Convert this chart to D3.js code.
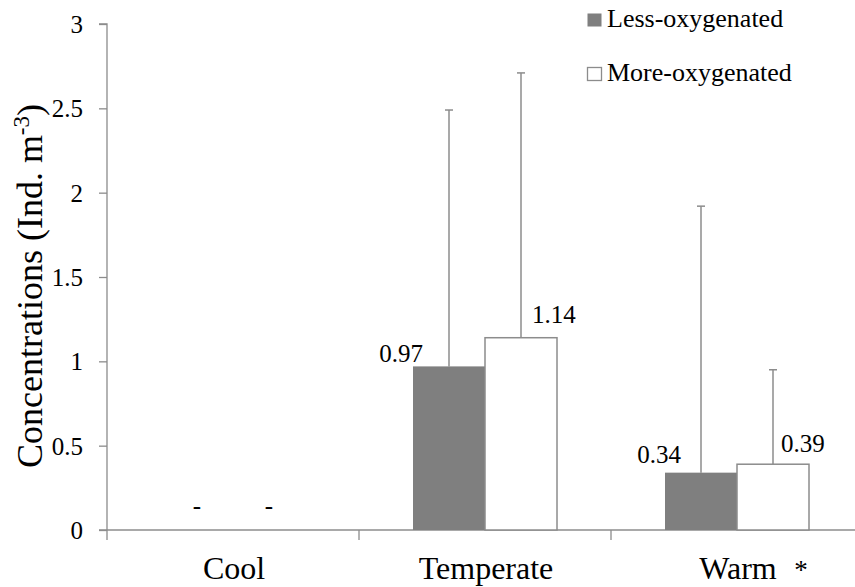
<!DOCTYPE html>
<html>
<head>
<meta charset="utf-8">
<script src="https://cdn.jsdelivr.net/npm/d3@7"></script>
<style>
  body { margin: 0; background: #fff; }
</style>
</head>
<body>
<svg id="chart" width="855" height="587" style="font-family: 'Liberation Serif', 'DejaVu Serif', serif;"></svg>
<script>
const categories = ['Cool', 'Temperate', 'Warm'];
const series = ['Less-oxygenated', 'More-oxygenated'];
const lessValues = [0, 0.97, 0.34];
const moreValues = [0, 1.14, 0.39];
const lessErrTop = [0, 2.49, 1.92];
const moreErrTop = [0, 2.71, 0.95];
const lessLabels = ['-', '0.97', '0.34'];
const moreLabels = ['-', '1.14', '0.39'];
const yTicks = [0, 0.5, 1, 1.5, 2, 2.5, 3];

// label nudges (layout only): [dx, dy] relative to bar top
const lessNudge = [[0, 0], [10, -4], [16, -10]];
const moreNudge = [[0, 0], [11, -15], [8, -12]];

const FONT = "'Liberation Serif', 'DejaVu Serif', serif";
const svg = d3.select('#chart');
const plotLeft = 107, plotRight = 863, plotTop = 24, plotBottom = 530;

const x = d3.scaleBand().domain(categories).range([plotLeft, plotRight]);
const xs = d3.scaleBand().domain(series).range([54, x.bandwidth() - 54]);
const y = d3.scaleLinear().domain([0, 3]).range([plotBottom, plotTop]);

const grey = '#8c8c8c';

// y axis
const yAxis = svg.append('g').attr('transform', `translate(${plotLeft},0)`)
  .call(d3.axisLeft(y).tickValues(yTicks).tickSize(8).tickPadding(16).tickFormat(d3.format('')));
yAxis.attr('font-family', null).attr('font-size', null);
yAxis.select('.domain').attr('stroke', grey).attr('stroke-width', 1.3).attr('d', `M-8,${plotTop}H0V${plotBottom}`);
yAxis.selectAll('.tick line').attr('stroke', grey).attr('stroke-width', 1.3);
yAxis.selectAll('.tick text').style('font-family', FONT).style('font-size', '25px').attr('fill', '#000').attr('dy', '0.34em');

// x axis
const xAxisG = svg.append('g');
xAxisG.append('line').attr('x1', plotLeft - 8).attr('x2', 855).attr('y1', plotBottom).attr('y2', plotBottom)
  .attr('stroke', grey).attr('stroke-width', 1.3);
xAxisG.selectAll('.xt').data(categories).join('line')
  .attr('x1', d => x(d)).attr('x2', d => x(d))
  .attr('y1', plotBottom).attr('y2', plotBottom + 10)
  .attr('stroke', grey).attr('stroke-width', 1.3);
xAxisG.selectAll('.xl').data(categories).join('text')
  .attr('x', d => x(d) + x.bandwidth() / 2 + 1)
  .attr('y', 579)
  .attr('text-anchor', 'middle')
  .style('font-family', FONT).style('font-size', '32px')
  .text(d => d);
svg.append('text').attr('x', x('Warm') + x.bandwidth() / 2 + 64).attr('y', 579)
  .attr('text-anchor', 'middle').style('font-family', FONT).style('font-size', '27px').text('*');

// bars
const flat = categories.flatMap((c, i) => ([
  { c, s: series[0], v: lessValues[i], e: lessErrTop[i], l: lessLabels[i], n: lessNudge[i] },
  { c, s: series[1], v: moreValues[i], e: moreErrTop[i], l: moreLabels[i], n: moreNudge[i] }
]));

// error bars (drawn behind bars)
const eb = svg.append('g');
flat.filter(d => d.e > 0).forEach(d => {
  const cx = x(d.c) + xs(d.s) + xs.bandwidth() / 2;
  eb.append('line').attr('x1', cx).attr('x2', cx).attr('y1', y(d.v)).attr('y2', y(d.e))
    .attr('stroke', grey).attr('stroke-width', 1.5);
  eb.append('line').attr('x1', cx - 4).attr('x2', cx + 4).attr('y1', y(d.e)).attr('y2', y(d.e))
    .attr('stroke', grey).attr('stroke-width', 1.5);
});

svg.append('g').selectAll('rect').data(flat).join('rect')
  .attr('x', d => x(d.c) + xs(d.s))
  .attr('y', d => y(d.v))
  .attr('width', xs.bandwidth())
  .attr('height', d => y(0) - y(d.v))
  .attr('fill', d => d.s === series[0] ? '#7f7f7f' : '#fff')
  .attr('stroke', d => d.s === series[0] ? 'none' : grey)
  .attr('stroke-width', 1.5);

// value labels
flat.forEach(d => {
  const bx = x(d.c) + xs(d.s);
  const cx = bx + xs.bandwidth() / 2;
  const t = svg.append('text').style('font-family', FONT).style('font-size', '25px');
  if (d.v === 0) {
    t.attr('x', cx).attr('y', 514).attr('text-anchor', 'middle').text(d.l);
  } else if (d.s === series[0]) {
    t.attr('x', bx + d.n[0]).attr('y', y(d.v) + d.n[1]).attr('text-anchor', 'end').text(d.l);
  } else {
    t.attr('x', cx + d.n[0]).attr('y', y(d.v) + d.n[1]).attr('text-anchor', 'start').text(d.l);
  }
});

// y axis title
svg.append('text')
  .attr('transform', 'translate(42,286) rotate(-90)')
  .attr('text-anchor', 'middle')
  .style('font-family', FONT).style('font-size', '36px')
  .html('Concentrations (Ind. m<tspan dy="-13" style="font-size:23px">-3</tspan><tspan dy="13">)</tspan>');

// legend
const lg = svg.append('g');
series.forEach((s, i) => {
  const ly = 13 + i * 54;
  lg.append('rect').attr('x', 587.5).attr('y', ly + 0.5).attr('width', 14).attr('height', 13)
    .attr('fill', i === 0 ? '#7f7f7f' : '#fff')
    .attr('stroke', i === 0 ? 'none' : grey).attr('stroke-width', 1.3);
  lg.append('text').attr('x', 607).attr('y', ly + 14)
    .style('font-family', FONT).style('font-size', '26px').text(s);
});
</script>
</body>
</html>
